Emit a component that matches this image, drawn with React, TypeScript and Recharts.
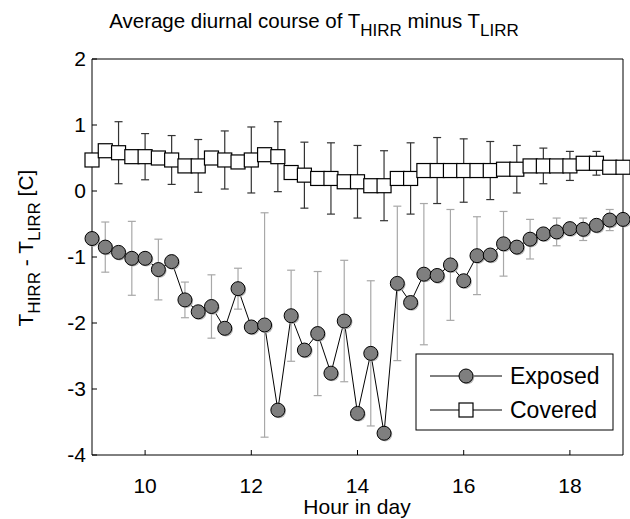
import React from 'react';
import { LineChart, Line, XAxis, YAxis, ErrorBar, Customized } from 'recharts';

const hours = [9, 9.25, 9.5, 9.75, 10, 10.25, 10.5, 10.75, 11, 11.25, 11.5, 11.75, 12, 12.25, 12.5, 12.75, 13, 13.25, 13.5, 13.75, 14, 14.25, 14.5, 14.75, 15, 15.25, 15.5, 15.75, 16, 16.25, 16.5, 16.75, 17, 17.25, 17.5, 17.75, 18, 18.25, 18.5, 18.75, 19];

const exposed = [-0.72, -0.85, -0.93, -1.02, -1.02, -1.19, -1.07, -1.65, -1.83, -1.75, -2.08, -1.48, -2.06, -2.03, -3.32, -1.89, -2.41, -2.16, -2.76, -1.97, -3.37, -2.46, -3.67, -1.4, -1.69, -1.26, -1.28, -1.12, -1.36, -0.98, -0.97, -0.8, -0.85, -0.73, -0.65, -0.62, -0.57, -0.58, -0.52, -0.44, -0.43];

const covered = [0.47, 0.61, 0.58, 0.52, 0.52, 0.5, 0.47, 0.38, 0.38, 0.5, 0.47, 0.44, 0.47, 0.55, 0.52, 0.28, 0.24, 0.19, 0.19, 0.14, 0.14, 0.08, 0.08, 0.19, 0.19, 0.31, 0.31, 0.31, 0.31, 0.31, 0.31, 0.33, 0.33, 0.38, 0.38, 0.38, 0.38, 0.42, 0.42, 0.36, 0.36];

const exposedErr = [null, 0.38, null, 0.56, null, 0.46, null, 0.27, null, 0.48, null, 0.31, null, 1.7, null, 0.69, null, 0.94, null, 0.92, null, 1.1, null, 1.17, null, 1.07, null, 0.84, null, 0.59, null, 0.49, null, 0.3, null, 0.21, null, 0.17, null, 0.16, null];

const coveredErr = [null, null, 0.47, null, 0.35, null, 0.37, null, 0.4, null, 0.44, null, 0.5, null, 0.53, null, 0.5, null, 0.54, null, 0.55, null, 0.53, null, 0.54, null, 0.5, null, 0.48, null, 0.44, null, 0.36, null, 0.27, null, 0.22, null, 0.18, null, null];

const xTicks = [10, 12, 14, 16, 18];
const yTicks = [-4, -3, -2, -1, 0, 1, 2];

const data = hours.map((h, i) => ({
  hour: h,
  exposed: exposed[i],
  covered: covered[i],
  exposedErr: exposedErr[i],
  coveredErr: coveredErr[i],
}));

const FONT = 'Liberation Sans, Arial, Helvetica, sans-serif';

const CircleDot = (props: any) => {
  const { cx, cy, index } = props;
  if (cx == null || cy == null) return <g key={`ce${index}`} />;
  return (
    <g key={`c${index}`}>
      <circle cx={cx + 1.2} cy={cy + 1.2} r={7} fill="#b5b5b5" stroke="none" />
      <circle cx={cx} cy={cy} r={7} fill="#7f7f7f" stroke="#000" strokeWidth={1} />
    </g>
  );
};

const SquareDot = (props: any) => {
  const { cx, cy, index } = props;
  if (cx == null || cy == null) return <g key={`se${index}`} />;
  return (
    <rect key={`s${index}`} x={cx - 7} y={cy - 7} width={14} height={14} fill="#fff" stroke="#000" strokeWidth={1.2} />
  );
};

const Annotations = () => (
  <g fontFamily={FONT} fill="#000">
    <text x={314} y={28} textAnchor="middle" fontSize={20.5}>
      Average diurnal course of T<tspan fontSize={17} dy={8}>HIRR</tspan>
      <tspan dy={-8}> minus T</tspan>
      <tspan fontSize={17} dy={8}>LIRR</tspan>
    </text>
    <text x={357} y={514} textAnchor="middle" fontSize={21}>Hour in day</text>
    <text transform="translate(33,248) rotate(-90)" textAnchor="middle" fontSize={21}>
      T<tspan fontSize={17} dy={7}>HIRR</tspan>
      <tspan dy={-7}> - T</tspan>
      <tspan fontSize={17} dy={7}>LIRR</tspan>
      <tspan dy={-7}> [C]</tspan>
    </text>
    <g>
      <rect x={416} y={354} width={197} height={76} fill="#fff" stroke="#000" strokeWidth={1} />
      <line x1={430} y1={376} x2={502} y2={376} stroke="#000" strokeWidth={1} />
      <circle cx={467.2} cy={377.2} r={7} fill="#b5b5b5" />
      <circle cx={466} cy={376} r={7} fill="#7f7f7f" stroke="#000" strokeWidth={1} />
      <text x={510} y={384} fontSize={23}>Exposed</text>
      <line x1={430} y1={410} x2={502} y2={410} stroke="#000" strokeWidth={1} />
      <rect x={459} y={403} width={14} height={14} fill="#fff" stroke="#000" strokeWidth={1.2} />
      <text x={510} y={418} fontSize={23}>Covered</text>
    </g>
  </g>
);

export default function App() {
  return (
    <div style={{ position: 'absolute', left: 0, top: 0, width: 630, height: 519, background: '#fff' }}>
      <LineChart width={630} height={519} data={data} margin={{ top: 58, right: 6, bottom: 0, left: 0 }}>
        <XAxis
          xAxisId="bottom"
          dataKey="hour"
          type="number"
          domain={[9, 19]}
          ticks={xTicks}
          height={64}
          tickSize={-5}
          tickMargin={28}
          axisLine={{ stroke: '#000' }}
          tickLine={{ stroke: '#000' }}
          tick={{ fill: '#000', fontSize: 21, fontFamily: FONT }}
        />
        <XAxis
          xAxisId="top"
          orientation="top"
          dataKey="hour"
          type="number"
          domain={[9, 19]}
          ticks={xTicks}
          height={1}
          tickSize={-5}
          tick={false}
          axisLine={{ stroke: '#000' }}
          tickLine={{ stroke: '#000' }}
        />
        <YAxis
          yAxisId="left"
          type="number"
          domain={[-4, 2]}
          ticks={yTicks}
          width={92}
          tickSize={-5}
          tickMargin={11}
          axisLine={{ stroke: '#000' }}
          tickLine={{ stroke: '#000' }}
          tick={{ fill: '#000', fontSize: 21, fontFamily: FONT }}
        />
        <YAxis
          yAxisId="right"
          orientation="right"
          type="number"
          domain={[-4, 2]}
          ticks={yTicks}
          width={1}
          tickSize={-5}
          tick={false}
          axisLine={{ stroke: '#000' }}
          tickLine={{ stroke: '#000' }}
        />
        <Line
          xAxisId="bottom"
          yAxisId="left"
          type="linear"
          dataKey="exposed"
          stroke="#000"
          strokeWidth={1}
          dot={CircleDot}
          activeDot={false}
          isAnimationActive={false}
        >
          <ErrorBar dataKey="exposedErr" direction="y" width={4} stroke="#a8a8a8" strokeWidth={1.2} />
        </Line>
        <Line
          xAxisId="bottom"
          yAxisId="left"
          type="linear"
          dataKey="covered"
          stroke="#000"
          strokeWidth={1}
          dot={SquareDot}
          activeDot={false}
          isAnimationActive={false}
        >
          <ErrorBar dataKey="coveredErr" direction="y" width={4} stroke="#333" strokeWidth={1.2} />
        </Line>
        <Customized component={Annotations} />
      </LineChart>
    </div>
  );
}
